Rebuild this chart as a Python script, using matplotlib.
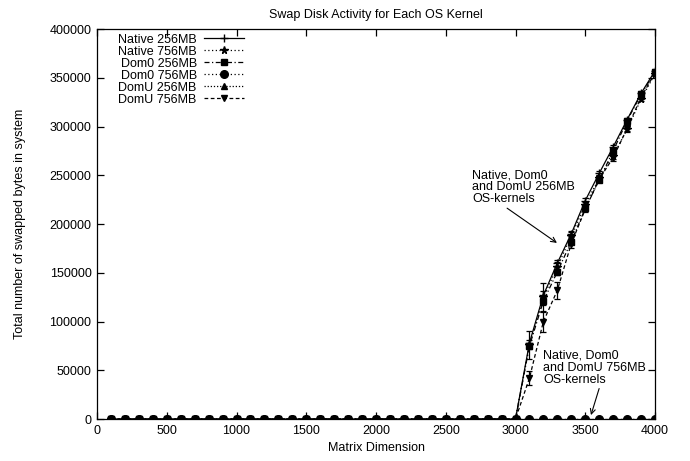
import matplotlib
matplotlib.use("Agg")
import matplotlib.pyplot as plt
import numpy as np

########
# Data #
########

dims = list(range(100, 4100, 100))
zeros_low = [0] * 30  # 100 .. 3000

native_256 = zeros_low + [78000, 127000, 160000, 190000, 224000, 252000, 279000, 307000, 334000, 357000]
native_756 = zeros_low + [76000, 125000, 156000, 188000, 220000, 247000, 270000, 297000, 328000, 354000]
dom0_256 = zeros_low + [75000, 121000, 151000, 182000, 216000, 245000, 275000, 306000, 333000, 356000]
dom0_756 = [0] * 40
domu_256 = [0] * 40
domu_756 = zeros_low + [42000, 100000, 132000, 180000, 215000, 246000, 268000, 298000, 330000, 355000]

err_native_256 = zeros_low + [3000, 4000, 3000, 3000, 3000, 2000, 2000, 2000, 2000, 2000]
err_native_756 = zeros_low + [14000, 15000, 5000, 4000, 3000, 3000, 3000, 3000, 2000, 2000]
err_dom0_256 = zeros_low + [3000, 4000, 3000, 3000, 3000, 2000, 2000, 2000, 2000, 2000]
err_domu_756 = zeros_low + [7000, 11000, 9000, 5000, 3000, 3000, 3000, 3000, 2000, 2000]

#########
# Style #
#########

plt.rcParams['font.family'] = ['Liberation Sans', 'DejaVu Sans']
plt.rcParams['font.size'] = 9

series = [
    ("Native 256MB", native_256, err_native_256, "+", "-", 6),
    ("Native 756MB", native_756, err_native_756, "*", (0, (1, 2)), 5.5),
    ("Dom0 256MB", dom0_256, err_dom0_256, "s", (0, (4, 2, 1, 2)), 5),
    ("Dom0 756MB", dom0_756, None, "o", (0, (1, 2, 1, 2)), 5.5),
    ("DomU 256MB", domu_256, None, "^", (0, (1, 1.5)), 5),
    ("DomU 756MB", domu_756, err_domu_756, "v", (0, (3, 2)), 5),
]

###########
# Program #
###########

fig = plt.figure(figsize=(6.9, 4.61), dpi=100)
ax = fig.add_axes([97 / 690, 1 - 419 / 461, (655 - 97) / 690, (419 - 29) / 461])

for label, vals, errs, marker, ls, ms in series:
    ax.plot(dims, vals, color="black", linestyle=ls, linewidth=0.9,
            marker=marker, markersize=ms, label=label)
    if errs is not None:
        ax.errorbar(dims, vals, yerr=errs, fmt="none", ecolor="black",
                    elinewidth=0.9, capsize=2.5, capthick=0.9)

ax.set_xlim(0, 4000)
ax.set_ylim(0, 400000)
ax.set_xticks(np.arange(0, 4001, 500))
ax.set_yticks(np.arange(0, 400001, 50000))
ax.tick_params(direction="in", top=True, right=True, length=5, width=0.9, pad=4)
for s in ax.spines.values():
    s.set_linewidth(0.9)

ax.set_title("Swap Disk Activity for Each OS Kernel", fontsize=9, pad=8)
ax.set_xlabel("Matrix Dimension", fontsize=9, labelpad=4)
ax.set_ylabel("Total number of swapped bytes in system", fontsize=9, labelpad=17)

ax.legend(loc="upper left", bbox_to_anchor=(0.022, 1.01), frameon=False,
          markerfirst=False, handlelength=3.2, labelspacing=0.0,
          handletextpad=0.6, borderpad=0.2, fontsize=9)

ax.annotate("Native, Dom0\nand DomU 256MB\nOS-kernels", xy=(3297, 180600),
            xytext=(2690, 256000), va="top", ha="left", fontsize=9,
            linespacing=1.0,
            arrowprops=dict(arrowstyle="->", color="black", lw=0.8,
                            shrinkA=0, shrinkB=0, relpos=(0.3, 0)))
ax.annotate("Native, Dom0\nand DomU 756MB\nOS-kernels", xy=(3541, 4000),
            xytext=(3200, 71000), va="top", ha="left", fontsize=9,
            linespacing=1.0,
            arrowprops=dict(arrowstyle="->", color="black", lw=0.8,
                            shrinkA=0, shrinkB=0, relpos=(0.55, 0)))

plt.savefig("out.png", dpi=100)
